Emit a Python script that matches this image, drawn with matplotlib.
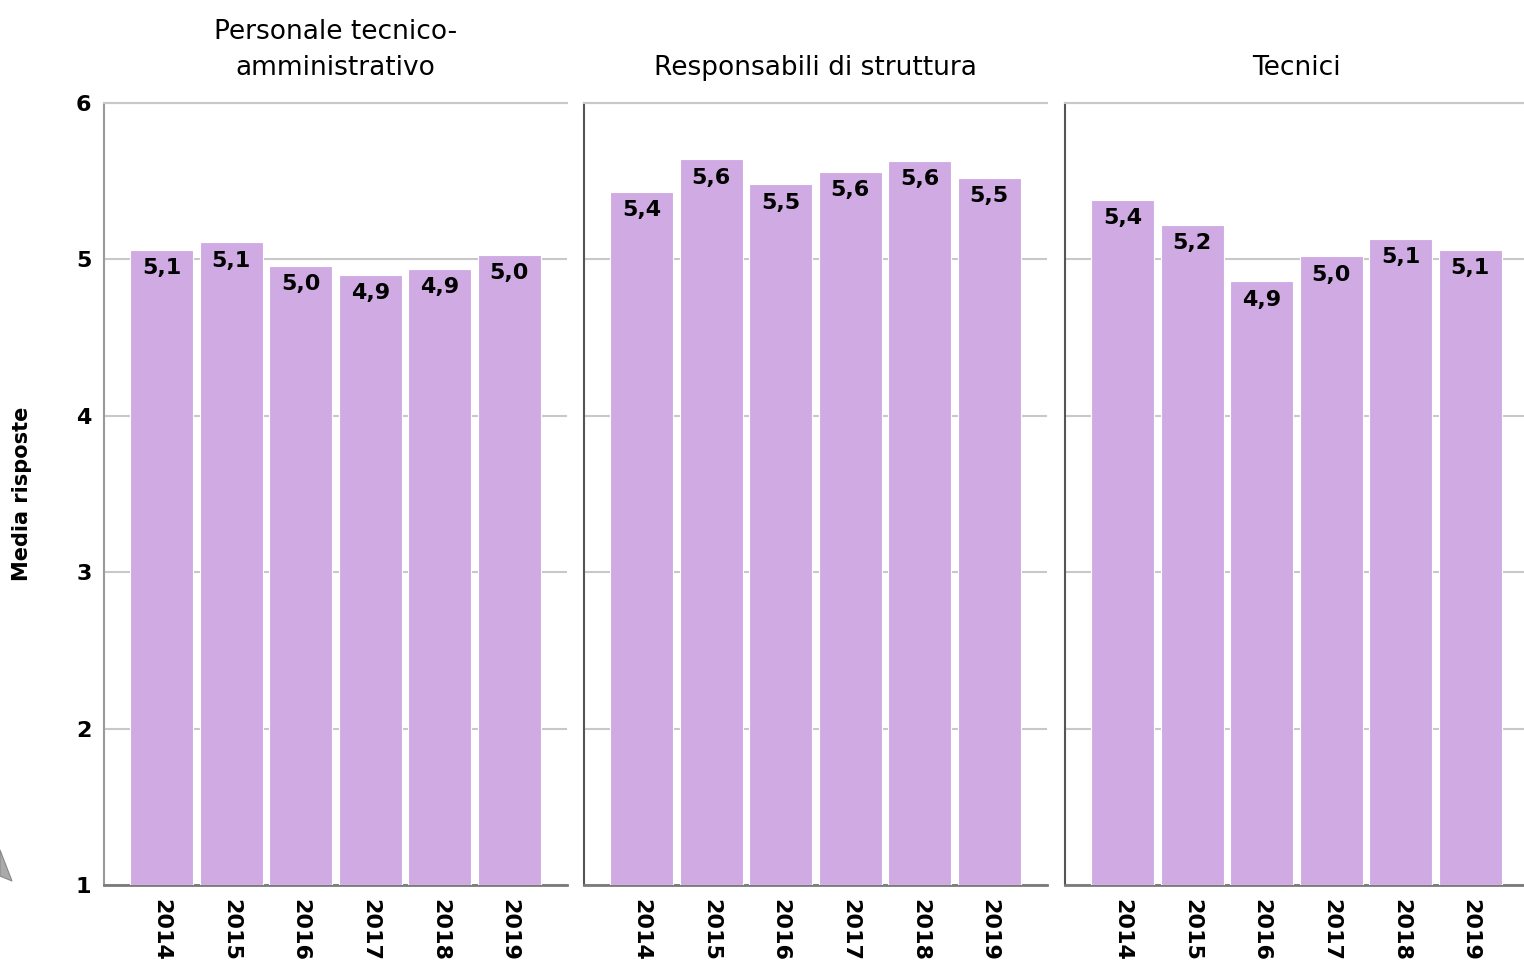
import matplotlib
matplotlib.use('Agg')
import matplotlib.pyplot as plt
from matplotlib.patches import Polygon

years = ['2014', '2015', '2016', '2017', '2018', '2019']
titles = ['Personale tecnico-\namministrativo', 'Responsabili di struttura', 'Tecnici']
personale = [5.06, 5.11, 4.96, 4.90, 4.94, 5.03]
responsabili = [5.43, 5.64, 5.48, 5.56, 5.63, 5.52]
tecnici = [5.38, 5.22, 4.86, 5.02, 5.13, 5.06]
series = [personale, responsabili, tecnici]

bar_color = '#d0abe3'
plt.rcParams['font.family'] = ['DejaVu Sans']

fig = plt.figure(figsize=(15.24, 9.73), dpi=100)
W, H = 1524.0, 973.0
lefts = [104, 584, 1065]
width = 463
top, bottom = 103, 885

for k, (vals, title) in enumerate(zip(series, titles)):
    ax = fig.add_axes([lefts[k] / W, 1 - bottom / H, width / W, (bottom - top) / H])
    x = range(len(years))
    ax.bar(x, [v - 1 for v in vals], bottom=1, width=0.9,
           color=bar_color, edgecolor='white', linewidth=0.8, zorder=3)
    for xi, v in zip(x, vals):
        lab = ('%.1f' % v).replace('.', ',')
        ax.annotate(lab, (xi, v), xytext=(0, -6), textcoords='offset points',
                    ha='center', va='top', fontsize=16, fontweight='bold', zorder=4)
    ax.set_ylim(1, 6)
    ax.set_xlim(-0.83, 5.83)
    ax.set_yticks([1, 2, 3, 4, 5, 6])
    ax.yaxis.grid(True, color='#c8c8c8', linewidth=1.5, zorder=0)
    ax.set_xticks(list(x))
    ax.set_xticklabels(years, rotation=-90, fontsize=16, fontweight='bold')
    ax.tick_params(axis='both', length=0, pad=10)
    if k == 0:
        ax.set_yticklabels(['1', '2', '3', '4', '5', '6'], fontsize=16, fontweight='bold')
        ax.tick_params(axis='y', pad=9)
        ax.set_ylabel('Media risposte', fontsize=15, fontweight='bold', labelpad=32)
        ax.spines['left'].set_color('#9a9a9a')
    else:
        ax.set_yticklabels([])
        ax.spines['left'].set_color('#555555')
    ax.spines['left'].set_linewidth(1.5)
    ax.spines['bottom'].set_color('#7a7a7a')
    ax.spines['bottom'].set_linewidth(2)
    ax.spines['top'].set_color('#c8c8c8')
    ax.spines['top'].set_linewidth(1.5)
    ax.spines['right'].set_visible(False)
    ax.set_title(title, fontsize=19, pad=20, linespacing=1.5)

# small grey marker at the lower left edge
tri = Polygon([[0, 1 - 850 / H], [12 / W, 1 - 881 / H], [0, 1 - 876 / H]],
              closed=True, transform=fig.transFigure, facecolor='#aaaaaa',
              edgecolor='#888888', linewidth=0.8)
fig.patches.append(tri)

fig.savefig('out.png', dpi=100)
